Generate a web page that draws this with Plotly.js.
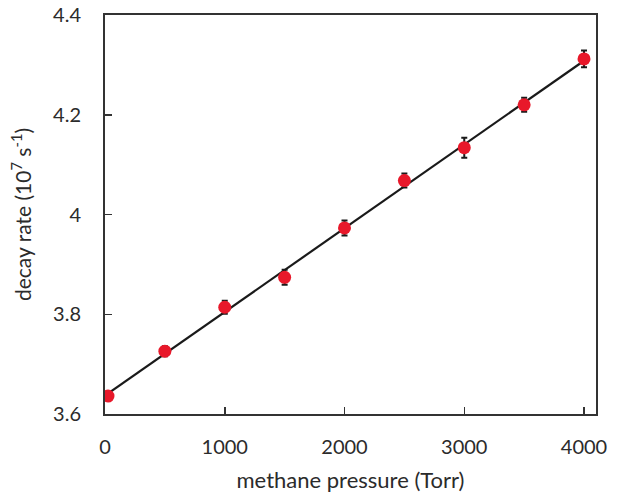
<!DOCTYPE html>
<html>
<head>
<meta charset="utf-8">
<script src="https://cdn.plot.ly/plotly-3.0.1.min.js"></script>
<style>html,body{margin:0;padding:0;background:#fff;}#chart{width:620px;height:494px;}</style>
</head>
<body>
<div id="chart"></div>
<script>
var pressure = [25, 500, 1000, 1500, 2000, 2500, 3000, 3500, 4000];
var decayRate = [3.636, 3.726, 3.814, 3.874, 3.973, 4.068, 4.134, 4.220, 4.312];
var decayErr = [0.006, 0.010, 0.013, 0.015, 0.015, 0.014, 0.020, 0.014, 0.017];

// least-squares linear fit
var n = pressure.length, sx = 0, sy = 0, sxx = 0, sxy = 0;
for (var i = 0; i < n; i++) { sx += pressure[i]; sy += decayRate[i]; sxx += pressure[i]*pressure[i]; sxy += pressure[i]*decayRate[i]; }
var slope = (n*sxy - sx*sy) / (n*sxx - sx*sx);
var intercept = (sy - slope*sx) / n;
var fitX = [0, 4000];
var fitY = fitX.map(function(x){ return intercept + slope*x; });

var font = "Lato, 'Open Sans', sans-serif";
var txt = '#2b2b2b';
var data = [
  {x: fitX, y: fitY, mode: 'lines', line: {color: '#1a1a1a', width: 2.2}, hoverinfo: 'skip', showlegend: false},
  {x: pressure, y: decayRate, mode: 'markers', showlegend: false,
   marker: {color: '#e8182a', size: 13},
   error_y: {type: 'data', array: decayErr, visible: true, color: '#1a1a1a', thickness: 2, width: 3}}
];
var layout = {
  width: 620, height: 494,
  margin: {l: 105, r: 24, t: 15, b: 80},
  paper_bgcolor: '#fff', plot_bgcolor: '#fff',
  font: {family: font, color: txt, size: 20},
  xaxis: {range: [0, 4100], tickvals: [0, 1000, 2000, 3000, 4000], ticks: 'inside', ticklen: 7, tickwidth: 1.5, tickcolor: '#333',
          ticklabelstandoff: 14,
          showline: true, linecolor: '#333', linewidth: 2, mirror: true, showgrid: false, zeroline: false,
          tickfont: {size: 20, family: font, color: txt},
          title: {text: 'methane pressure (Torr)', font: {size: 22, family: font, color: txt}, standoff: 16}},
  yaxis: {range: [3.6, 4.4], dtick: 0.2, tick0: 3.6, ticks: 'inside', ticklen: 7, tickwidth: 1.5, tickcolor: '#333',
          ticklabelstandoff: 18,
          showline: true, linecolor: '#333', linewidth: 2, mirror: true, showgrid: false, zeroline: false,
          tickfont: {size: 20, family: font, color: txt},
          title: {text: 'decay rate (10<sup>7</sup> s<sup>-1</sup>)', font: {size: 21, family: font, color: txt}, standoff: 16}}
};
Plotly.newPlot('chart', data, layout, {displayModeBar: false, staticPlot: true});
</script>
</body>
</html>
